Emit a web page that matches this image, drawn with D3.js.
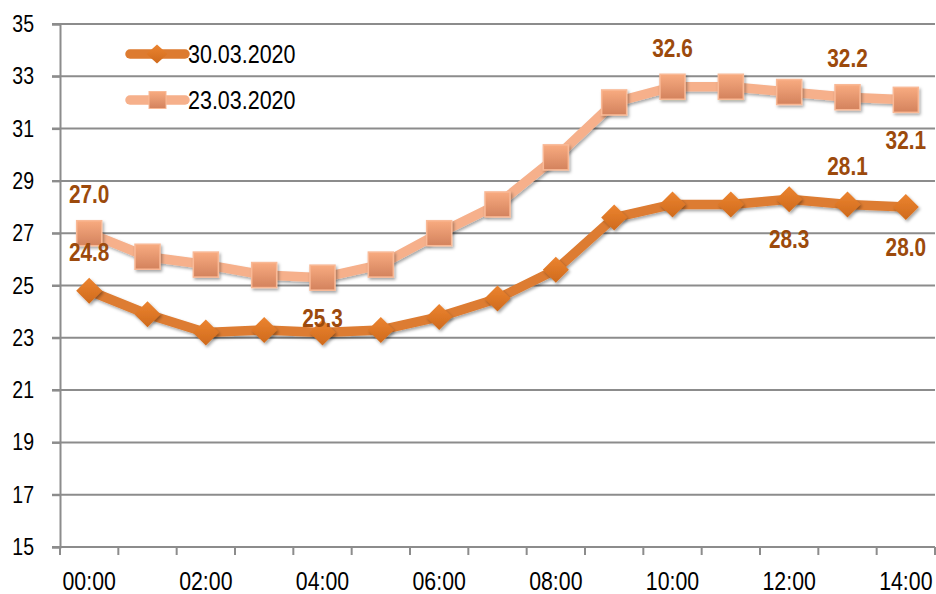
<!DOCTYPE html>
<html>
<head>
<meta charset="utf-8">
<script src="https://cdn.jsdelivr.net/npm/d3@7"></script>
<style>
  body { margin: 0; background: #fff; }
  svg { display: block; font-family: "Liberation Sans", Arial, sans-serif; }
</style>
</head>
<body>
<div class="canvas"></div>
<script>
// data
const hours = ['00:00', '01:00', '02:00', '03:00', '04:00', '05:00', '06:00', '07:00',
    '08:00', '09:00', '10:00', '11:00', '12:00', '13:00', '14:00']
const series30 = [24.8, 23.9, 23.2, 23.3, 23.2, 23.3, 23.8, 24.5, 25.6, 27.6, 28.1, 28.1, 28.3, 28.1, 28.0]
const series23 = [27.0, 26.1, 25.8, 25.4, 25.3, 25.8, 27.0, 28.1, 29.9, 32.0, 32.6, 32.6, 32.4, 32.2, 32.1]
const seriesNames = ['30.03.2020', '23.03.2020']
const yTicks = [15, 17, 19, 21, 23, 25, 27, 29, 31, 33, 35]
const xLabels = ['00:00', '02:00', '04:00', '06:00', '08:00', '10:00', '12:00', '14:00']
// value labels: series index, category index, above/below
const valueLabels = [
    { s: 1, i: 0, side: 'above' },
    { s: 0, i: 0, side: 'above' },
    { s: 1, i: 4, side: 'below' },
    { s: 1, i: 10, side: 'above' },
    { s: 1, i: 13, side: 'above' },
    { s: 1, i: 14, side: 'below' },
    { s: 0, i: 13, side: 'above' },
    { s: 0, i: 12, side: 'below' },
    { s: 0, i: 14, side: 'below' }
]

const width = 936, height = 594
const margin = { top: 24, right: 1, bottom: 47, left: 60 }
const graphWidth = width - margin.left - margin.right
const graphHeight = height - margin.top - margin.bottom

// no narrow font installed, so squeeze text horizontally
const narrow = 0.8

const svg = d3.select('.canvas').append('svg')
    .attr('width', width)
    .attr('height', height)

const defs = svg.append('defs')
const gSq = defs.append('linearGradient').attr('id', 'gSq').attr('x1', 0).attr('y1', 0).attr('x2', 0).attr('y2', 1)
gSq.append('stop').attr('offset', '0%').attr('stop-color', '#f8ab80')
gSq.append('stop').attr('offset', '100%').attr('stop-color', '#d3825d')
const gDi = defs.append('linearGradient').attr('id', 'gDi').attr('x1', 0).attr('y1', 0).attr('x2', 0).attr('y2', 1)
gDi.append('stop').attr('offset', '0%').attr('stop-color', '#ec8430')
gDi.append('stop').attr('offset', '100%').attr('stop-color', '#cf6a1c')
const shadow = defs.append('filter').attr('id', 'shadow')
    .attr('x', '-50%').attr('y', '-50%').attr('width', '200%').attr('height', '200%')
shadow.append('feDropShadow').attr('dx', 1.5).attr('dy', 2).attr('stdDeviation', 1.8)
    .attr('flood-color', '#000').attr('flood-opacity', 0.35)

const graph = svg.append('g')
    .attr('transform', `translate(${margin.left}, ${margin.top})`)

const x = d3.scaleBand()
    .domain(hours)
    .range([0, graphWidth])

const y = d3.scaleLinear()
    .domain([15, 35])
    .range([graphHeight, 0])

// gridlines
graph.append('g')
    .selectAll('line')
    .data(yTicks)
    .enter()
    .append('line')
    .attr('x1', -8)
    .attr('x2', graphWidth)
    .attr('y1', d => y(d))
    .attr('y2', d => y(d))
    .attr('stroke', '#8c8c8c')
    .attr('stroke-width', 2)

// y axis
const yAxis = d3.axisLeft(y).tickValues(yTicks).tickSize(8).tickPadding(18)
const yAxisGroup = graph.append('g').call(yAxis)
yAxisGroup.select('.domain').attr('stroke', '#8c8c8c').attr('stroke-width', 2)
yAxisGroup.selectAll('.tick line').attr('stroke', '#8c8c8c').attr('stroke-width', 2)
yAxisGroup.selectAll('text')
    .attr('font-size', 23.5)
    .attr('fill', '#000')
    .attr('font-family', null)
    .attr('x', -26 / 0.83)
    .attr('transform', 'scale(0.83, 1)')

// x axis: tick marks at category boundaries
const xAxisGroup = graph.append('g').attr('transform', `translate(0, ${graphHeight})`)
xAxisGroup.append('line')
    .attr('x1', 0).attr('x2', graphWidth)
    .attr('stroke', '#8c8c8c').attr('stroke-width', 2)
xAxisGroup.selectAll('.bt')
    .data(hours.concat(['end']))
    .enter()
    .append('line')
    .attr('x1', (d, i) => i < hours.length ? x(d) : graphWidth)
    .attr('x2', (d, i) => i < hours.length ? x(d) : graphWidth)
    .attr('y1', 0).attr('y2', 8)
    .attr('stroke', '#8c8c8c').attr('stroke-width', 2)
xAxisGroup.selectAll('text')
    .data(xLabels)
    .enter()
    .append('text')
    .attr('transform', d => `translate(${x(d) + x.bandwidth() / 2}, 43) scale(0.82, 1)`)
    .attr('text-anchor', 'middle')
    .attr('font-size', 26)
    .attr('fill', '#000')
    .text(d => d)

const cx = (d, i) => x(hours[i]) + x.bandwidth() / 2
const line = d3.line().x(cx).y(d => y(d))

const allSeries = [series30, series23]
const lineColors = ['#dd7b30', '#f6b08b']

// light series first so that dark series sits on top
;[1, 0].forEach(s => {
    graph.append('path')
        .datum(allSeries[s])
        .attr('d', line)
        .attr('fill', 'none')
        .attr('stroke', lineColors[s])
        .attr('stroke-width', 9.5)
        .attr('stroke-linejoin', 'round')
        .attr('stroke-linecap', 'round')
        .attr('filter', 'url(#shadow)')
})

const diamond = (rx, ry) => `M0,${-ry}L${rx},0L0,${ry}L${-rx},0Z`

graph.append('g')
    .selectAll('rect')
    .data(series23)
    .enter()
    .append('rect')
    .attr('x', (d, i) => cx(d, i) - 12.5)
    .attr('y', d => y(d) - 12.5)
    .attr('width', 25)
    .attr('height', 25)
    .attr('fill', 'url(#gSq)')
    .attr('stroke', '#f9b996')
    .attr('stroke-width', 1.5)
    .attr('filter', 'url(#shadow)')

graph.append('g')
    .selectAll('path')
    .data(series30)
    .enter()
    .append('path')
    .attr('d', diamond(13, 13))
    .attr('transform', (d, i) => `translate(${cx(d, i)}, ${y(d)})`)
    .attr('fill', 'url(#gDi)')
    .attr('filter', 'url(#shadow)')

// value labels
graph.append('g')
    .selectAll('text')
    .data(valueLabels)
    .enter()
    .append('text')
    .attr('transform', d => `translate(${cx(null, d.i)}, ${y(allSeries[d.s][d.i]) + (d.side === 'above' ? -39 : 40)}) scale(${narrow}, 1)`)
    .attr('dy', '0.35em')
    .attr('text-anchor', 'middle')
    .attr('font-size', 26)
    .attr('font-weight', 'bold')
    .attr('fill', '#9c4a0c')
    .text(d => allSeries[d.s][d.i].toFixed(1))

// legend
const legend = svg.append('g').attr('transform', 'translate(130, 54)')
seriesNames.forEach((name, k) => {
    const g = legend.append('g').attr('transform', `translate(0, ${k * 46})`)
    g.append('line')
        .attr('x1', 0).attr('x2', 55)
        .attr('stroke', lineColors[k]).attr('stroke-width', 9.5)
        .attr('stroke-linecap', 'round')
    if (k === 0) {
        g.append('path').attr('d', diamond(10.5, 9.5))
            .attr('transform', 'translate(27, 0)')
            .attr('fill', 'url(#gDi)')
    } else {
        g.append('rect').attr('x', 19).attr('y', -8.5).attr('width', 17).attr('height', 17)
            .attr('fill', 'url(#gSq)')
            .attr('stroke', '#f9b996').attr('stroke-width', 1)
    }
    g.append('text')
        .attr('transform', 'translate(58, 0) scale(0.86, 1)')
        .attr('dy', '0.35em')
        .attr('font-size', 25)
        .attr('fill', '#000')
        .text(name)
})
</script>
</body>
</html>
